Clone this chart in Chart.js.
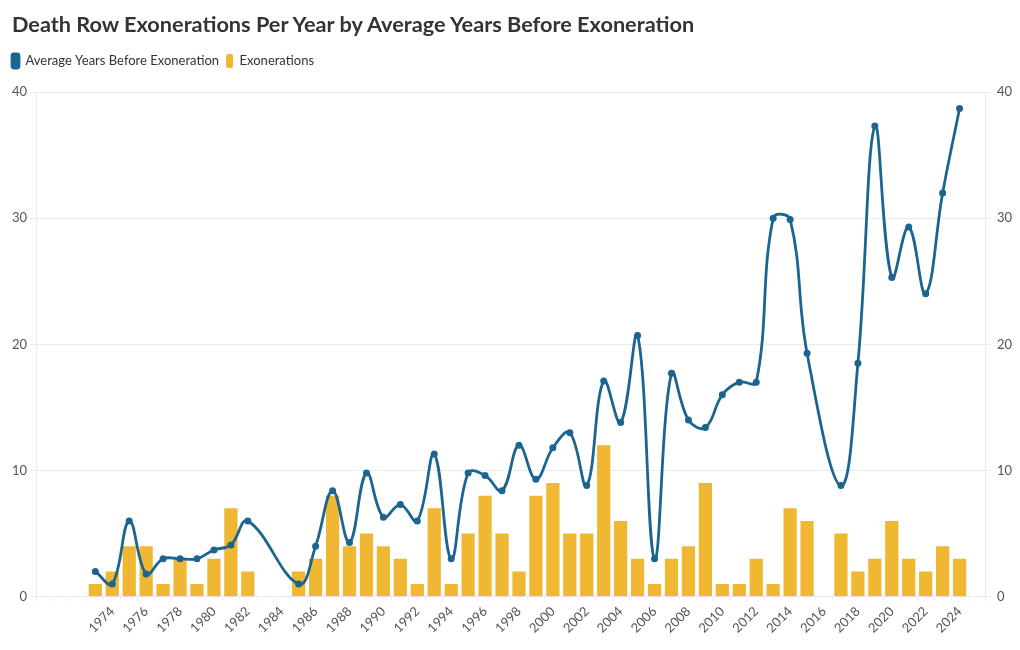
<!DOCTYPE html>
<html>
<head>
<meta charset="utf-8">
<script src="https://cdn.jsdelivr.net/npm/chart.js@4.4.1/dist/chart.umd.min.js"></script>
<style>
  html, body { margin: 0; padding: 0; background: #fff; }
  #wrap { position: relative; width: 1020px; height: 650px; }
  #title { position: absolute; left: 12px; top: 11px; font-family: Lato, "Noto Sans", sans-serif; font-weight: 700; font-size: 21.7px; color: #333; white-space: nowrap; }
  canvas { position: absolute; left: 0; top: 0; }
</style>
</head>
<body>
<div id="wrap">
  <canvas id="c" width="1020" height="650"></canvas>
  <div id="title">Death Row Exonerations Per Year by Average Years Before Exoneration</div>
</div>
<script>
const years = [];
for (let y = 1970; y <= 2025; y++) years.push(String(y));

const seriesLine = "Average Years Before Exoneration";
const seriesBar = "Exonerations";

// 1970 .. 2025
const avgYears = [
  null, null, null,            // 1970-1972
  2.0, 1.0, 6.0, 1.8, 3.0, 3.0, 3.0, 3.7, 4.1, 6.0,   // 1973-1982
  null, null,                  // 1983-1984
  1.0, 4.0, 8.4, 4.3, 9.8, 6.3, 7.3, 6.0, 11.3, 3.0,  // 1985-1994
  9.8, 9.6, 8.4, 12.0, 9.3, 11.8, 13.0, 8.8, 17.1, 13.8, // 1995-2004
  20.7, 3.0, 17.7, 14.0, 13.4, 16.0, 17.0, 17.0, 30.0, 29.9, // 2005-2014
  19.3, null, 8.8, 18.5, 37.3, 25.3, 29.3, 24.0, 32.0, 38.7, // 2015-2024
  null                         // 2025
];

const exonerations = [
  null, null, null,
  1, 2, 4, 4, 1, 3, 1, 3, 7, 2,
  null, null,
  2, 3, 8, 4, 5, 4, 3, 1, 7, 1,
  5, 8, 5, 2, 8, 9, 5, 5, 12, 6,
  3, 1, 3, 4, 9, 1, 1, 3, 1, 7,
  6, null, 5, 2, 3, 6, 3, 2, 4, 3,
  null
];

const yTicks = [0, 10, 20, 30, 40];

const blue = "#1B6590";
const gold = "#EFB732";
const gridColor = "#ebebeb";
const tickColor = "#555";
const font = "Lato, 'Noto Sans', sans-serif";

const legendMargin = {
  id: "legendMargin",
  beforeInit(chart) {
    const origFit = chart.legend.fit;
    chart.legend.fit = function () {
      origFit.bind(chart.legend)();
      this.height += 14;
    };
  }
};

new Chart(document.getElementById("c"), {
  plugins: [legendMargin],
  data: {
    labels: years,
    datasets: [
      {
        type: "line",
        label: seriesLine,
        data: avgYears,
        borderColor: blue,
        backgroundColor: blue,
        borderWidth: 2.8,
        pointRadius: 3.5,
        pointBackgroundColor: blue,
        pointBorderWidth: 0,
        tension: 0.4,
        spanGaps: true,
        yAxisID: "y",
        order: 0
      },
      {
        type: "bar",
        label: seriesBar,
        data: exonerations,
        backgroundColor: gold,
        borderWidth: 0,
        barPercentage: 0.78,
        categoryPercentage: 1.0,
        yAxisID: "y2",
        order: 1
      }
    ]
  },
  options: {
    responsive: false,
    animation: false,
    layout: { padding: { top: 47, left: 5, right: 8, bottom: 12 } },
    plugins: {
      title: { display: false },
      tooltip: { enabled: false },
      legend: {
        display: true,
        position: "top",
        align: "start",
        labels: {
          boxWidth: 7,
          boxHeight: 14,
          useBorderRadius: true,
          borderRadius: 2,
          padding: 7,
          color: "#333",
          font: { family: font, size: 13 }
        }
      }
    },
    scales: {
      x: {
        type: "category",
        grid: {
          display: true,
          drawOnChartArea: false,
          offset: true,
          tickLength: 5,
          color: "#f0f0f0"
        },
        border: { display: true, color: gridColor },
        ticks: {
          autoSkip: false,
          maxRotation: 45,
          minRotation: 45,
          padding: 2,
          color: tickColor,
          font: { family: font, size: 13 },
          callback: function(value, index) {
            const yr = parseInt(years[index], 10);
            return (yr % 2 === 0 && yr >= 1974 && yr <= 2024) ? years[index] : "";
          }
        }
      },
      y: {
        position: "left",
        min: 0,
        max: 40,
        afterBuildTicks: (axis) => { axis.ticks = yTicks.map(v => ({ value: v })); },
        afterFit: (axis) => { axis.width = 31; },
        grid: { color: gridColor, tickLength: 6 },
        border: { display: true, color: gridColor },
        ticks: {
          padding: 3,
          color: tickColor,
          font: { family: font, size: 13 }
        }
      },
      y2: {
        position: "right",
        min: 0,
        max: 40,
        afterBuildTicks: (axis) => { axis.ticks = yTicks.map(v => ({ value: v })); },
        afterFit: (axis) => { axis.width = 27; },
        grid: { drawOnChartArea: false, color: gridColor, tickLength: 6 },
        border: { display: true, color: gridColor },
        ticks: {
          padding: 6,
          color: tickColor,
          font: { family: font, size: 13 }
        }
      }
    }
  }
});
</script>
</body>
</html>
